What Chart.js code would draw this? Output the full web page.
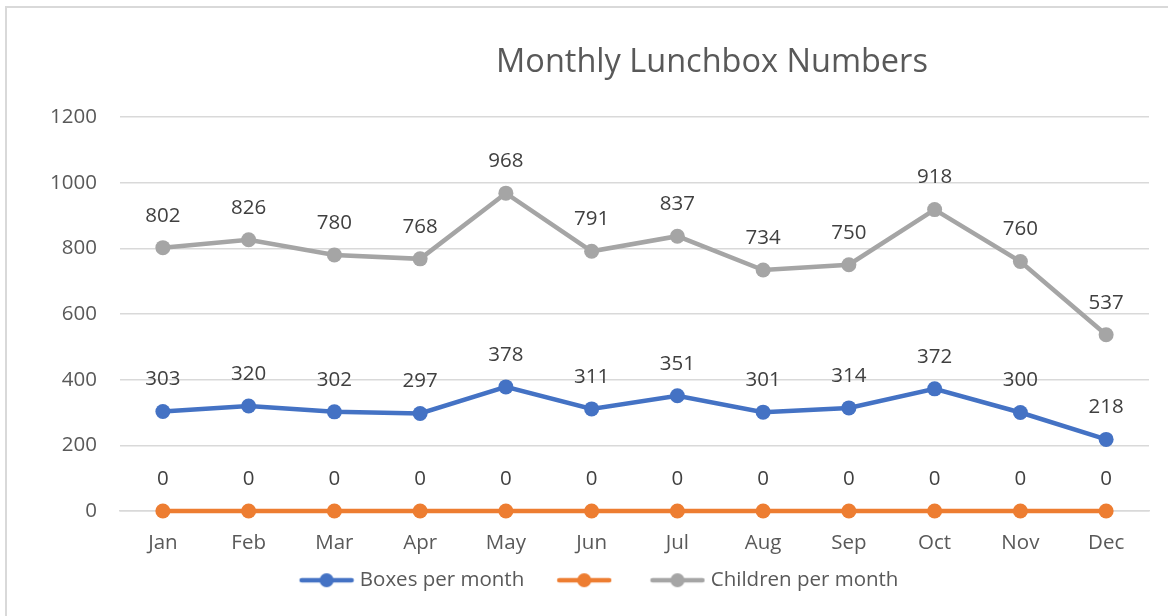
<!DOCTYPE html>
<html>
<head>
<meta charset="utf-8">
<script src="https://cdn.jsdelivr.net/npm/chart.js@4"></script>
<style>
  html,body{margin:0;padding:0;background:#fff;overflow:hidden;}
  #wrap{position:relative;width:1168px;height:616px;}
  #frame{position:absolute;left:5px;top:6px;width:1200px;height:700px;border:2px solid #d9d9d9;box-sizing:border-box;}
  canvas{position:absolute;left:0;top:0;}
</style>
</head>
<body>
<div id="wrap">
  <div id="frame"></div>
  <canvas id="c" width="1168" height="616"></canvas>
</div>
<script>
const months=['Jan','Feb','Mar','Apr','May','Jun','Jul','Aug','Sep','Oct','Nov','Dec'];
const boxes=[303,320,302,297,378,311,351,301,314,372,300,218];
const blank=[0,0,0,0,0,0,0,0,0,0,0,0];
const children=[802,826,780,768,968,791,837,734,750,918,760,537];
const yTicks=[0,200,400,600,800,1000,1200];

const FONT='"Open Sans", "Noto Sans", sans-serif';
const FS=20.5;
const BLUE='#4472C4', ORANGE='#ED7D31', GRAY='#A5A5A5';

// legend icon: line with a marker, drawn in the right part so the left part acts as item spacing
function icon(color){
  const c=document.createElement('canvas'); c.width=81; c.height=16;
  const g=c.getContext('2d');
  g.strokeStyle=color; g.lineWidth=4.5; g.lineCap='round';
  g.beginPath(); g.moveTo(28,8); g.lineTo(78,8); g.stroke();
  g.fillStyle=color; g.beginPath(); g.arc(53,8,7,0,Math.PI*2); g.fill();
  return c;
}

const labelsPlugin={
  id:'valueLabels',
  afterDatasetsDraw(chart){
    const ctx=chart.ctx; ctx.save();
    ctx.font=FS+'px '+FONT; ctx.fillStyle='#404040';
    ctx.textAlign='center'; ctx.textBaseline='middle';
    chart.data.datasets.forEach((ds,i)=>{
      chart.getDatasetMeta(i).data.forEach((pt,j)=>{ ctx.fillText(String(ds.data[j]),pt.x,pt.y-32); });
    });
    ctx.restore();
  }
};
const titlePlugin={
  id:'sideTitle',
  afterDraw(chart){
    const ctx=chart.ctx; ctx.save();
    ctx.font='32.5px '+FONT; ctx.fillStyle='#595959';
    ctx.textAlign='center'; ctx.textBaseline='middle';
    ctx.fillText('Monthly Lunchbox Numbers',712,63);
    ctx.restore();
  }
};

const mk=(label,data,color)=>({label,data,borderColor:color,backgroundColor:color,borderWidth:4.5,clip:false,
  pointRadius:7.5,pointHoverRadius:7.5,pointBackgroundColor:color,pointBorderWidth:0,tension:0,fill:false,_icon:icon(color)});

new Chart(document.getElementById('c'),{
  type:'line',
  data:{labels:months,datasets:[mk('Boxes per month',boxes,BLUE),mk('',blank,ORANGE),mk('Children per month',children,GRAY)]},
  options:{
    responsive:false,animation:false,
    layout:{padding:{left:28,right:19,top:117,bottom:15.5}},
    plugins:{
      title:{display:false},tooltip:{enabled:false},
      legend:{position:'bottom',
        labels:{usePointStyle:true,pointStyleWidth:71,padding:12,color:'#595959',font:{family:FONT,size:FS},
          generateLabels(chart){
            const items=Chart.defaults.plugins.legend.labels.generateLabels(chart);
            items.forEach(it=>{ it.pointStyle=chart.data.datasets[it.datasetIndex]._icon; });
            return items;
          }}}
    },
    scales:{
      x:{offset:true,afterFit(s){s.height=47;},
        grid:{display:false,drawTicks:false},border:{display:true,color:'#d9d9d9',width:1.5},
        ticks:{padding:20,color:'#595959',font:{family:FONT,size:FS}}},
      y:{min:0,max:1200,afterFit(s){s.width=92;},
        afterBuildTicks(s){ s.ticks=yTicks.map(v=>({value:v})); },
        grid:{color:'#d9d9d9',lineWidth:1.5,drawTicks:false},border:{display:false},
        ticks:{padding:23,color:'#595959',font:{family:FONT,size:FS},callback:v=>String(v)}}
    }
  },
  plugins:[labelsPlugin,titlePlugin]
});
</script>
</body>
</html>
